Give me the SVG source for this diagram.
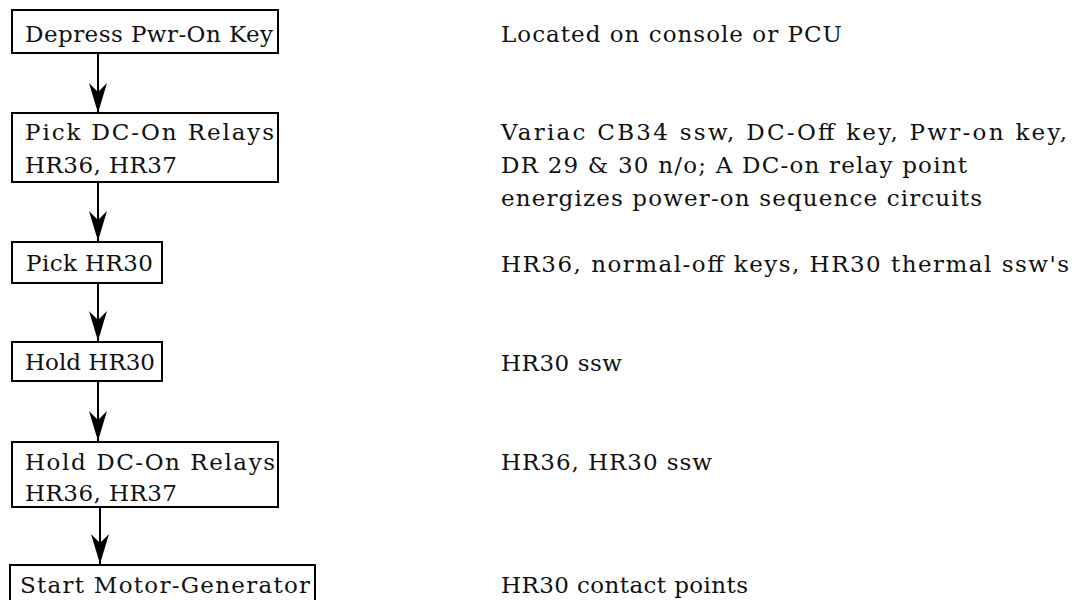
<svg xmlns="http://www.w3.org/2000/svg" width="1079" height="600" viewBox="0 0 1079 600">
<style>
  .box { fill: #ffffff; stroke: #000000; stroke-width: 2; }
  .t { font-family: "DejaVu Serif", "Liberation Serif", serif; font-size: 23px; fill: #111111; }
  .conn { stroke: #000000; stroke-width: 2; fill: none; marker-end: url(#arr); }
</style>
<defs>
  <marker id="arr" markerUnits="userSpaceOnUse" viewBox="0 -9 30 18" refX="30" refY="0" markerWidth="30" markerHeight="18" orient="auto">
    <path d="M30,0 L0,-9 L9,0 L0,9 Z" fill="#000000"/>
  </marker>
</defs>
<rect width="1079" height="600" fill="#ffffff"/>

<g id="connectors">
  <line class="conn" x1="98" y1="53" x2="98" y2="113"/>
  <line class="conn" x1="98" y1="182" x2="98" y2="241"/>
  <line class="conn" x1="98" y1="283" x2="98" y2="341"/>
  <line class="conn" x1="98" y1="381" x2="98" y2="441"/>
  <line class="conn" x1="100" y1="507" x2="100" y2="564"/>
</g>

<g id="node-depress">
  <rect class="box" x="12" y="10" width="266" height="43"/>
  <text class="t" x="25" y="42" textLength="248">Depress Pwr-On Key</text>
</g>
<g id="node-pick-dc">
  <rect class="box" x="12" y="113" width="266" height="69"/>
  <text class="t" x="25" y="140" textLength="249">Pick DC-On Relays</text>
  <text class="t" x="25" y="173" textLength="152">HR36, HR37</text>
</g>
<g id="node-pick-hr30">
  <rect class="box" x="12" y="242" width="150" height="41"/>
  <text class="t" x="26" y="271" textLength="127">Pick HR30</text>
</g>
<g id="node-hold-hr30">
  <rect class="box" x="12" y="342" width="150" height="39"/>
  <text class="t" x="25" y="370" textLength="130">Hold HR30</text>
</g>
<g id="node-hold-dc">
  <rect class="box" x="12" y="442" width="266" height="65"/>
  <text class="t" x="25" y="470" textLength="250">Hold DC-On Relays</text>
  <text class="t" x="25" y="501" textLength="152">HR36, HR37</text>
</g>
<g id="node-start-mg">
  <rect class="box" x="10" y="565" width="305" height="50"/>
  <text class="t" x="20" y="593" textLength="290">Start Motor-Generator</text>
</g>

<g id="notes">
  <text class="t" x="501" y="42" textLength="341">Located on console or PCU</text>
  <text class="t" x="501" y="140" textLength="566">Variac CB34 ssw, DC-Off key, Pwr-on key,</text>
  <text class="t" x="501" y="173" textLength="466">DR 29 &amp; 30 n/o; A DC-on relay point</text>
  <text class="t" x="501" y="206" textLength="481">energizes power-on sequence circuits</text>
  <text class="t" x="501" y="272" textLength="568">HR36, normal-off keys, HR30 thermal ssw's</text>
  <text class="t" x="501" y="371" textLength="121">HR30 ssw</text>
  <text class="t" x="501" y="470" textLength="211">HR36, HR30 ssw</text>
  <text class="t" x="501" y="593" textLength="247">HR30 contact points</text>
</g>
</svg>
